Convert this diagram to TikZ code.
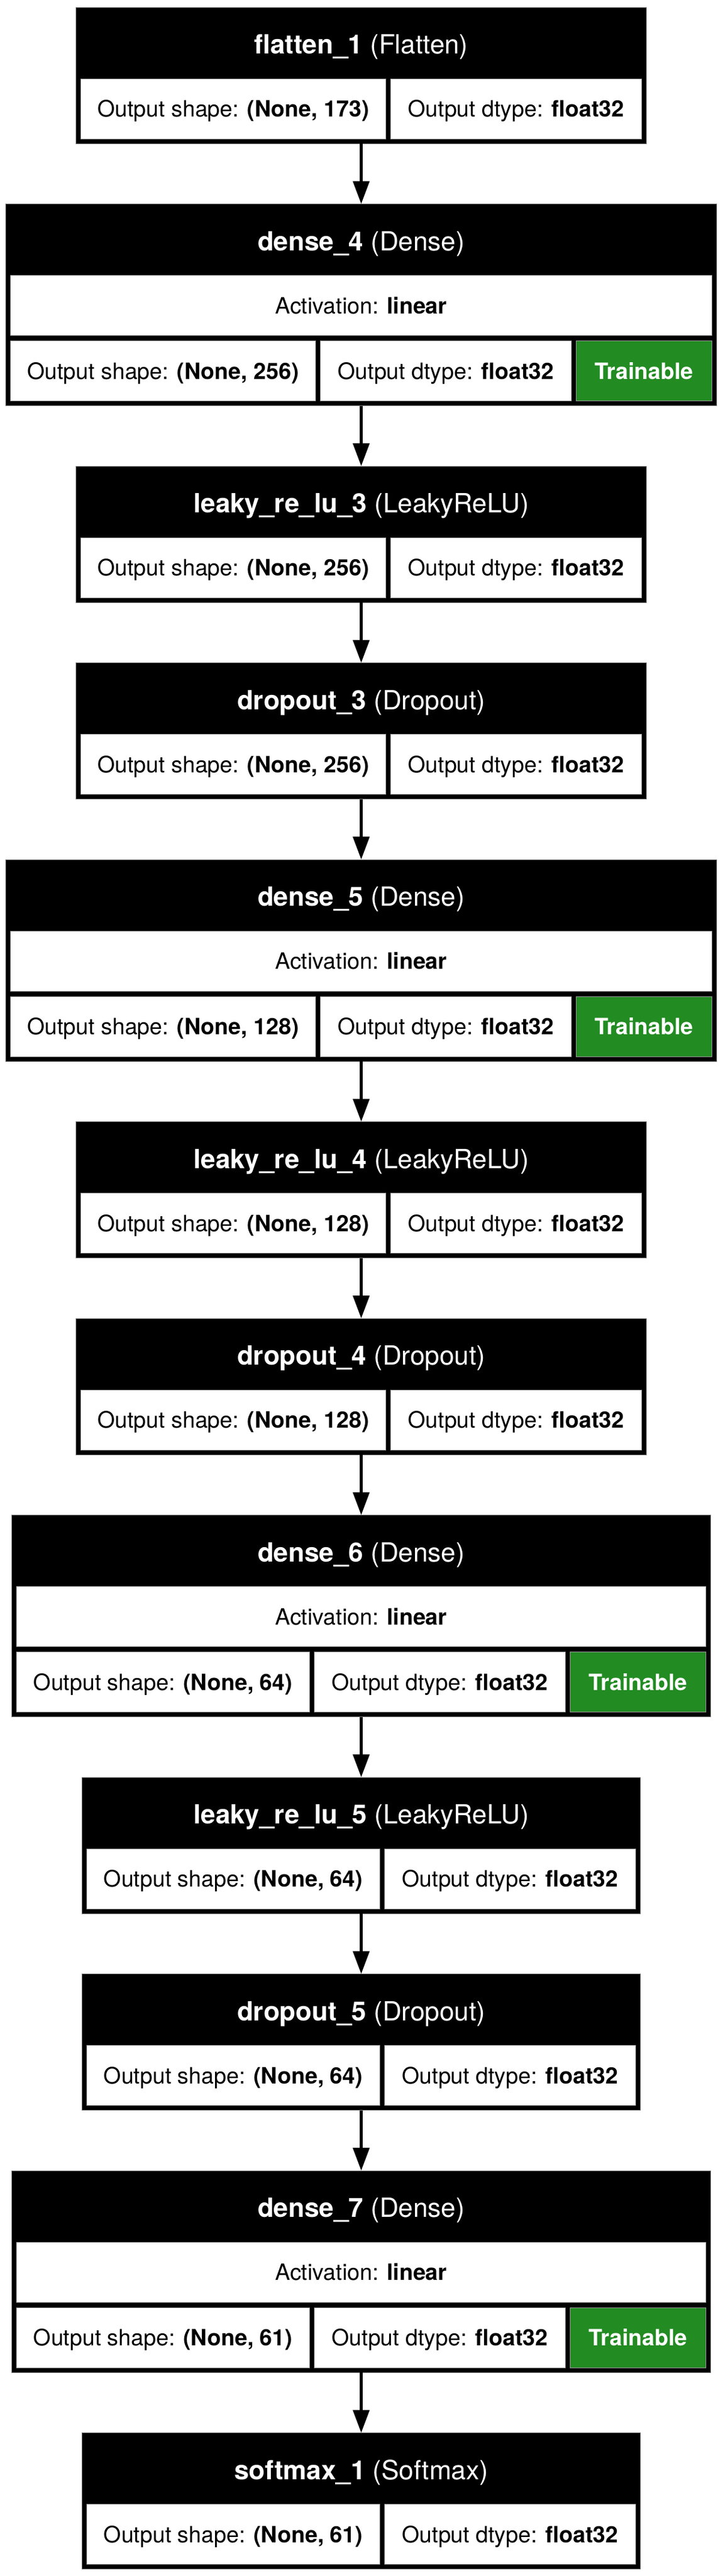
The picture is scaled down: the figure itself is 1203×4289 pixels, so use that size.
\documentclass[tikz,border=0pt]{standalone}
\usepackage{fontspec}
\setmainfont{TeX Gyre Heros}
\usetikzlibrary{arrows.meta,positioning}

\definecolor{trainGreen}{RGB}{34,139,34}

\tikzset{
    layer/.style={fill=black,draw=black!50,line width=1pt,inner sep=0pt,outer sep=0pt,minimum height=227pt},
    dlayer/.style={layer,minimum height=336pt},
    title/.style={text=white,inner sep=0pt,minimum height=119pt,text height=31pt,text depth=0pt,font=\fontsize{44}{52}\selectfont},
    cell/.style={fill=white,draw=black!40,line width=1pt,inner sep=0pt,outer sep=0pt,minimum height=100pt,text height=27pt,text depth=0pt,font=\fontsize{37.5}{45}\selectfont},
    act/.style={cell,minimum width=#1},
    shp/.style={cell,minimum width=#1},
    typ/.style={cell,minimum width=418pt},
    trn/.style={cell,fill=trainGreen,text=white,minimum width=226pt,font=\fontsize{37.5}{45}\selectfont\bfseries}
}

\begin{document}
\begin{tikzpicture}[
        ->,
        >={Triangle[length=38pt,width=27pt]},
        line width=5pt,
        node distance=100.5pt
    ]
    \useasboundingbox (0,0) rectangle (1203pt,-4289pt);

    % layer boxes
    \node[layer,minimum width=950pt,anchor=north] (flat) at (601.5pt,-12pt) {};
    \node[dlayer,minimum width=1184pt] (dns4) [below=of flat] {};
    \node[layer,minimum width=950pt]   (lky3) [below=of dns4] {};
    \node[layer,minimum width=950pt]   (drp3) [below=of lky3] {};
    \node[dlayer,minimum width=1184pt] (dns5) [below=of drp3] {};
    \node[layer,minimum width=950pt]   (lky4) [below=of dns5] {};
    \node[layer,minimum width=950pt]   (drp4) [below=of lky4] {};
    \node[dlayer,minimum width=1164pt] (dns6) [below=of drp4] {};
    \node[layer,minimum width=930pt]   (lky5) [below=of dns6] {};
    \node[layer,minimum width=930pt]   (drp5) [below=of lky5] {};
    \node[dlayer,minimum width=1164pt] (dns7) [below=of drp5] {};
    \node[layer,minimum width=930pt]   (smax) [below=of dns7] {};

    % titles
    \node[title,anchor=north] (flat-t) at (flat.north) {\textbf{flatten\_1} (Flatten)};
    \node[title,anchor=north] (dns4-t) at (dns4.north) {\textbf{dense\_4} (Dense)};
    \node[title,anchor=north] (lky3-t) at (lky3.north) {\textbf{leaky\_re\_lu\_3} (LeakyReLU)};
    \node[title,anchor=north] (drp3-t) at (drp3.north) {\textbf{dropout\_3} (Dropout)};
    \node[title,anchor=north] (dns5-t) at (dns5.north) {\textbf{dense\_5} (Dense)};
    \node[title,anchor=north] (lky4-t) at (lky4.north) {\textbf{leaky\_re\_lu\_4} (LeakyReLU)};
    \node[title,anchor=north] (drp4-t) at (drp4.north) {\textbf{dropout\_4} (Dropout)};
    \node[title,anchor=north] (dns6-t) at (dns6.north) {\textbf{dense\_6} (Dense)};
    \node[title,anchor=north] (lky5-t) at (lky5.north) {\textbf{leaky\_re\_lu\_5} (LeakyReLU)};
    \node[title,anchor=north] (drp5-t) at (drp5.north) {\textbf{dropout\_5} (Dropout)};
    \node[title,anchor=north] (dns7-t) at (dns7.north) {\textbf{dense\_7} (Dense)};
    \node[title,anchor=north] (smax-t) at (smax.north) {\textbf{softmax\_1} (Softmax)};

    % flatten_1
    \node[shp=508pt,below right=119pt and 8pt of flat.north west] (flat-s) {Output shape: \textbf{(None, 173)}};
    \node[typ,right=8pt of flat-s] (flat-d) {Output dtype: \textbf{float32}};

    % dense_4
    \node[act=1168pt,below right=119pt and 8pt of dns4.north west] (dns4-a) {Activation: \textbf{linear}};
    \node[shp=508pt,below right=9pt and 0pt of dns4-a.south west] (dns4-s) {Output shape: \textbf{(None, 256)}};
    \node[typ,right=8pt of dns4-s] (dns4-d) {Output dtype: \textbf{float32}};
    \node[trn,right=8pt of dns4-d] (dns4-x) {Trainable};

    % leaky_re_lu_3
    \node[shp=508pt,below right=119pt and 8pt of lky3.north west] (lky3-s) {Output shape: \textbf{(None, 256)}};
    \node[typ,right=8pt of lky3-s] (lky3-d) {Output dtype: \textbf{float32}};

    % dropout_3
    \node[shp=508pt,below right=119pt and 8pt of drp3.north west] (drp3-s) {Output shape: \textbf{(None, 256)}};
    \node[typ,right=8pt of drp3-s] (drp3-d) {Output dtype: \textbf{float32}};

    % dense_5
    \node[act=1168pt,below right=119pt and 8pt of dns5.north west] (dns5-a) {Activation: \textbf{linear}};
    \node[shp=508pt,below right=9pt and 0pt of dns5-a.south west] (dns5-s) {Output shape: \textbf{(None, 128)}};
    \node[typ,right=8pt of dns5-s] (dns5-d) {Output dtype: \textbf{float32}};
    \node[trn,right=8pt of dns5-d] (dns5-x) {Trainable};

    % leaky_re_lu_4
    \node[shp=508pt,below right=119pt and 8pt of lky4.north west] (lky4-s) {Output shape: \textbf{(None, 128)}};
    \node[typ,right=8pt of lky4-s] (lky4-d) {Output dtype: \textbf{float32}};

    % dropout_4
    \node[shp=508pt,below right=119pt and 8pt of drp4.north west] (drp4-s) {Output shape: \textbf{(None, 128)}};
    \node[typ,right=8pt of drp4-s] (drp4-d) {Output dtype: \textbf{float32}};

    % dense_6
    \node[act=1148pt,below right=119pt and 8pt of dns6.north west] (dns6-a) {Activation: \textbf{linear}};
    \node[shp=488pt,below right=9pt and 0pt of dns6-a.south west] (dns6-s) {Output shape: \textbf{(None, 64)}};
    \node[typ,right=8pt of dns6-s] (dns6-d) {Output dtype: \textbf{float32}};
    \node[trn,right=8pt of dns6-d] (dns6-x) {Trainable};

    % leaky_re_lu_5
    \node[shp=488pt,below right=119pt and 8pt of lky5.north west] (lky5-s) {Output shape: \textbf{(None, 64)}};
    \node[typ,right=8pt of lky5-s] (lky5-d) {Output dtype: \textbf{float32}};

    % dropout_5
    \node[shp=488pt,below right=119pt and 8pt of drp5.north west] (drp5-s) {Output shape: \textbf{(None, 64)}};
    \node[typ,right=8pt of drp5-s] (drp5-d) {Output dtype: \textbf{float32}};

    % dense_7
    \node[act=1148pt,below right=119pt and 8pt of dns7.north west] (dns7-a) {Activation: \textbf{linear}};
    \node[shp=488pt,below right=9pt and 0pt of dns7-a.south west] (dns7-s) {Output shape: \textbf{(None, 61)}};
    \node[typ,right=8pt of dns7-s] (dns7-d) {Output dtype: \textbf{float32}};
    \node[trn,right=8pt of dns7-d] (dns7-x) {Trainable};

    % softmax_1
    \node[shp=488pt,below right=119pt and 8pt of smax.north west] (smax-s) {Output shape: \textbf{(None, 61)}};
    \node[typ,right=8pt of smax-s] (smax-d) {Output dtype: \textbf{float32}};

    \path
    (flat) edge (dns4)
    (dns4) edge (lky3)
    (lky3) edge (drp3)
    (drp3) edge (dns5)
    (dns5) edge (lky4)
    (lky4) edge (drp4)
    (drp4) edge (dns6)
    (dns6) edge (lky5)
    (lky5) edge (drp5)
    (drp5) edge (dns7)
    (dns7) edge (smax) ;
\end{tikzpicture}
\end{document}
